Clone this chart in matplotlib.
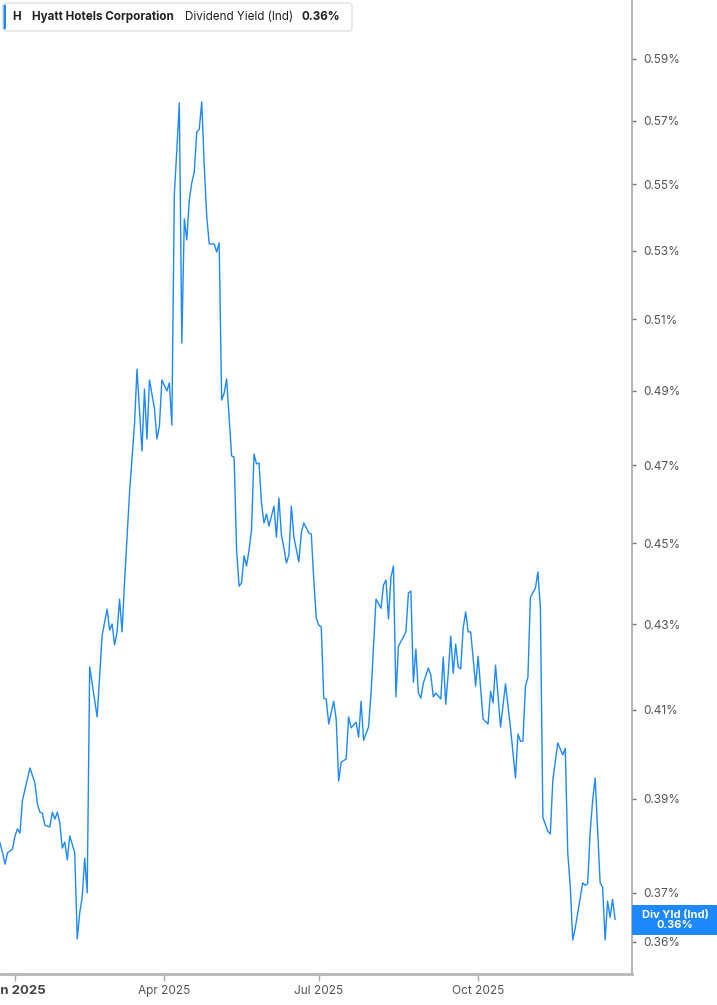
import numpy as np
import matplotlib
matplotlib.use("Agg")
import matplotlib.pyplot as plt
from matplotlib.patches import FancyBboxPatch, Rectangle
from matplotlib.transforms import IdentityTransform
from matplotlib.ticker import FixedLocator, FixedFormatter, NullLocator

plt.rcParams['font.family'] = ['Inter', 'DejaVu Sans']

# NYSE trading calendar (session 0 = first session of 2025)
first_session = "2025-01-02"
holidays = ["2024-12-25", "2025-01-01", "2025-01-09", "2025-01-20", "2025-02-17",
            "2025-04-18", "2025-05-26", "2025-06-19", "2025-07-04", "2025-09-01",
            "2025-11-27", "2025-12-25"]

# trading session number of each reading
session = [
    -6, -5, -4, -3, -1, 0, 1, 2, 3, 6, 8, 9, 10, 11, 12, 14,
    15, 16, 17, 18, 19, 20, 21, 22, 24, 25, 26, 27, 28, 29, 30, 33,
    35, 37, 38, 39, 40, 41, 42, 43, 44, 46, 48, 49, 51, 52,
    53, 54, 56, 57, 58, 59, 61, 62, 63, 64, 65, 66, 67, 68,
    69, 70, 71, 72, 73, 74, 75, 76, 77, 78, 80, 81, 82, 83, 84, 85,
    87, 88, 89, 90, 91, 92, 93, 94, 95, 96, 97, 98, 99, 100, 101, 102,
    104, 105, 106, 107, 108, 109, 110, 111, 112, 114, 115, 116, 118, 119, 120, 121,
    122, 123, 124, 125, 126, 128, 129, 130, 131, 133, 134, 135, 137, 138, 139, 140,
    142, 143, 145, 147, 148, 149, 150, 151, 152, 153, 154, 156, 157, 158, 159, 160,
    161, 162, 163, 164, 166, 167, 168, 169, 171, 172, 173, 174, 175, 176, 177, 178,
    179, 180, 181, 182, 183, 184, 185, 186, 188, 190, 191, 192, 193, 195, 197, 199,
    201, 202, 203, 204, 205, 206, 207, 209, 210, 211, 212, 214, 215, 216, 218, 220,
    221, 222, 223, 224, 225, 228, 229, 230, 231, 232, 233, 235, 236, 237, 238, 239,
    240, 241,
]

# dividend yield (%), indicated
div_yield = [
    0.3805, 0.3784, 0.3760, 0.3784, 0.3792, 0.3820, 0.3835, 0.3826, 0.3897, 0.3968, 0.3935, 0.3889, 0.3871, 0.3869, 0.3843, 0.3839,
    0.3871, 0.3856, 0.3871, 0.3848, 0.3794, 0.3807, 0.3769, 0.3820, 0.3784, 0.3606, 0.3659, 0.3692, 0.3773, 0.3700, 0.4199, 0.4083,
    0.4274, 0.4337, 0.4286, 0.4301, 0.4251, 0.4282, 0.4361, 0.4282, 0.4403, 0.4628, 0.4810, 0.4960, 0.4738, 0.4905,
    0.4770, 0.4930, 0.4853, 0.4770, 0.4805, 0.4930, 0.4900, 0.4922, 0.4807, 0.5471, 0.5607, 0.5757, 0.5033, 0.5395,
    0.5332, 0.5452, 0.5505, 0.5539, 0.5664, 0.5673, 0.5760, 0.5560, 0.5404, 0.5320, 0.5320, 0.5296, 0.5323, 0.4875, 0.4894, 0.4933,
    0.4725, 0.4722, 0.4483, 0.4393, 0.4401, 0.4468, 0.4443, 0.4483, 0.4533, 0.4730, 0.4704, 0.4706, 0.4602, 0.4551, 0.4574, 0.4543,
    0.4594, 0.4515, 0.4615, 0.4520, 0.4488, 0.4450, 0.4470, 0.4594, 0.4515, 0.4453, 0.4526, 0.4551, 0.4526, 0.4523, 0.4408, 0.4315,
    0.4298, 0.4294, 0.4126, 0.4124, 0.4067, 0.4119, 0.4078, 0.3939, 0.3981, 0.3988, 0.4083, 0.4058, 0.4071, 0.4037, 0.4119, 0.4030,
    0.4060, 0.4138, 0.4361, 0.4339, 0.4396, 0.4408, 0.4313, 0.4415, 0.4443, 0.4129, 0.4248, 0.4270, 0.4282, 0.4376, 0.4381, 0.4163,
    0.4241, 0.4138, 0.4126, 0.4161, 0.4196, 0.4180, 0.4129, 0.4138, 0.4124, 0.4222, 0.4112, 0.4184, 0.4272, 0.4184, 0.4253, 0.4199,
    0.4194, 0.4291, 0.4330, 0.4282, 0.4282, 0.4220, 0.4154, 0.4224, 0.4078, 0.4067, 0.4142, 0.4115, 0.4203, 0.4060, 0.4159, 0.4058,
    0.3946, 0.4044, 0.4028, 0.4028, 0.4154, 0.4175, 0.4366, 0.4388, 0.4428, 0.4342, 0.3860, 0.3830, 0.3824, 0.3941, 0.4024, 0.3997,
    0.4012, 0.3784, 0.3714, 0.3604, 0.3628, 0.3721, 0.3716, 0.3719, 0.3828, 0.3897, 0.3946, 0.3721, 0.3712, 0.3604, 0.3683, 0.3650,
    0.3687, 0.3646,
]

tick_dates = ["2025-01-02", "2025-04-01", "2025-07-01", "2025-10-01"]
tick_labels = ["Jan 2025", "Apr 2025", "Jul 2025", "Oct 2025"]
ytick_values = [0.36, 0.37, 0.39, 0.41, 0.43, 0.45, 0.47, 0.49, 0.51, 0.53, 0.55, 0.57, 0.59]

ticker = "H"
company = "Hyatt Hotels Corporation"
metric = "Dividend Yield (Ind)"
metric_short = "Div Yld (Ind)"

W, H = 717, 1005
line_color = "#1e88ff"

fig = plt.figure(figsize=(W / 100, H / 100), dpi=100)
ax = fig.add_axes([0, 31 / H, 632 / W, 974 / H])

ax.plot(session, div_yield, color=line_color, lw=1.0)

ax.set_yscale("log")
ax.set_ylim(0.3536, 0.6098)
ax.set_xlim(-6.02, 247.8)

ax.yaxis.set_major_locator(FixedLocator(ytick_values))
ax.yaxis.set_major_formatter(FixedFormatter([f"{v:.2f}%" for v in ytick_values]))
ax.yaxis.set_minor_locator(NullLocator())
ax.yaxis.tick_right()
ax.tick_params(axis="y", length=3, width=1, color="#777777", pad=5,
               labelsize=8.5, labelcolor="#555555")

xt = [int(np.busday_count(first_session, d, holidays=holidays)) for d in tick_dates]
ax.set_xticks(xt)
ax.set_xticklabels(tick_labels)
ax.tick_params(axis="x", length=5, width=1, color="#aaaaaa", pad=3,
               labelsize=8.5, labelcolor="#555555")
jan = ax.get_xticklabels()[0]
jan.set_fontweight("bold")
jan.set_fontsize(9.5)
jan.set_color("#444444")

for s in ["left", "top"]:
    ax.spines[s].set_visible(False)
ax.spines["right"].set_color("#a8a8a8")
ax.spines["right"].set_linewidth(1.2)
ax.spines["bottom"].set_color("#b8b8b8")
ax.spines["bottom"].set_linewidth(2)

# legend box top-left
px = IdentityTransform()
fig.add_artist(FancyBboxPatch((3, H - 31), 349, 28,
                              boxstyle="round,pad=0,rounding_size=3",
                              transform=px, facecolor="white",
                              edgecolor="#e2e2e2", lw=1))
fig.add_artist(FancyBboxPatch((3.5, H - 29.5), 2.5, 25,
                              boxstyle="round,pad=0,rounding_size=1.2",
                              transform=px, facecolor=line_color,
                              edgecolor="none"))
ty = 1 - 17 / H
fs = 8.4
fig.text(12 / W, ty, ticker, fontsize=fs, fontweight="bold", color="#222222", va="center")
fig.text(32 / W, ty, company, fontsize=fs, fontweight="bold", color="#222222", va="center")
fig.text(185 / W, ty, metric, fontsize=fs, color="#222222", va="center")
fig.text(302 / W, ty, f"{div_yield[-1]:.2f}%", fontsize=fs, fontweight="bold",
         color="#222222", va="center")

# last value flag on the right axis
yd = ax.transData.transform((session[-1], div_yield[-1]))[1]
fig.add_artist(Rectangle((632, yd - 16), W - 632, 30, transform=px,
                         facecolor=line_color, edgecolor="none"))
fig.text(675 / W, (yd - 1) / H, f"{metric_short}\n{div_yield[-1]:.2f}%",
         ha="center", va="center", fontsize=8, fontweight="bold",
         color="white", linespacing=1.0)

fig.savefig("out.png", dpi=100)
